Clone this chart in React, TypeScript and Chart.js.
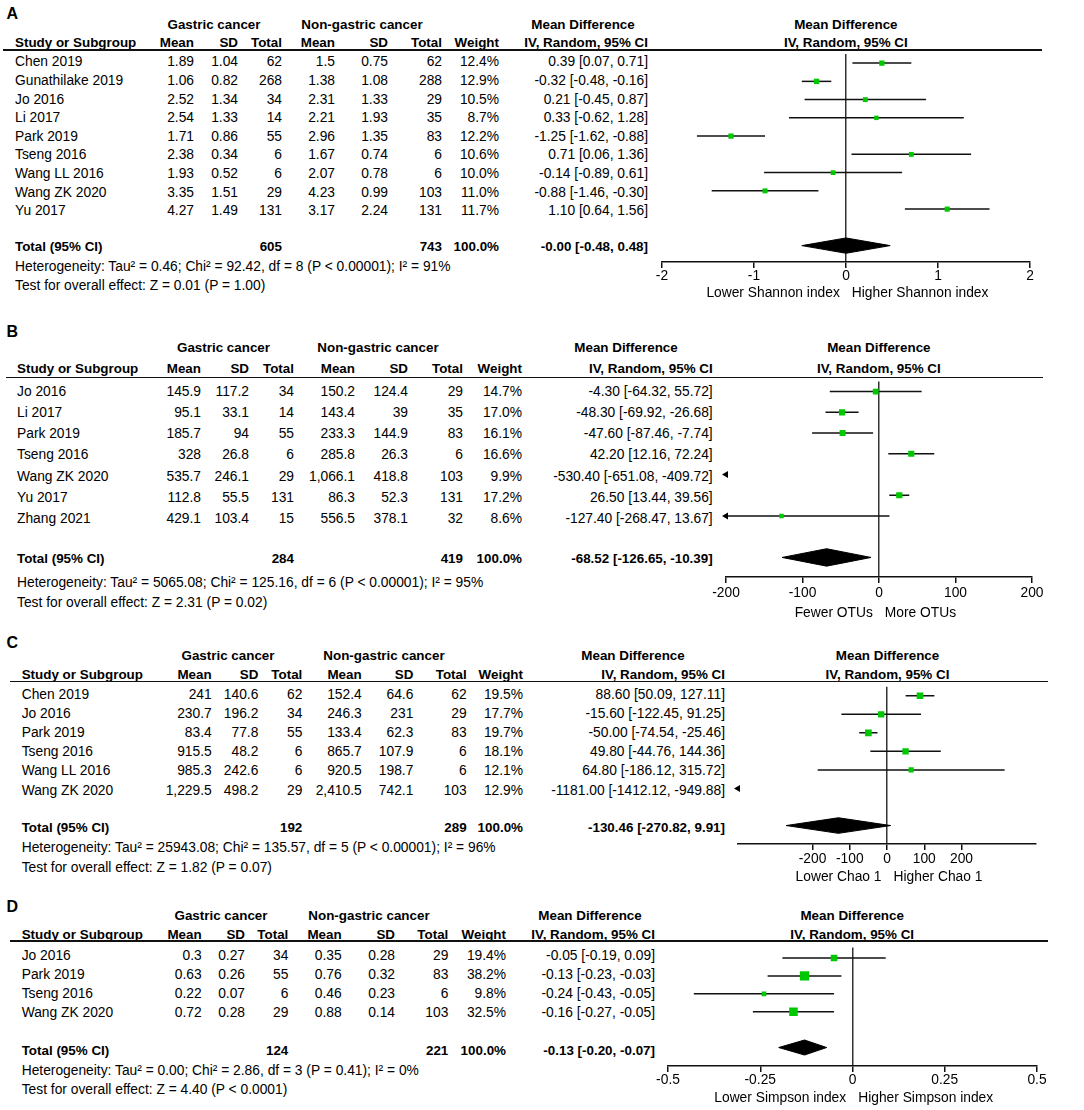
import React, { useEffect, useRef } from "react";
import { Chart, registerables } from "chart.js";

Chart.register(...registerables);

const FONT = '"Liberation Sans", Arial, Helvetica, sans-serif';
const GREEN = "#00c800";

// ---------------- Panel A: Shannon index ----------------
const A_studies = ["Chen 2019", "Gunathilake 2019", "Jo 2016", "Li 2017", "Park 2019", "Tseng 2016", "Wang LL 2016", "Wang ZK 2020", "Yu 2017"];
const A_gMean = [1.89, 1.06, 2.52, 2.54, 1.71, 2.38, 1.93, 3.35, 4.27];
const A_gSD = [1.04, 0.82, 1.34, 1.33, 0.86, 0.34, 0.52, 1.51, 1.49];
const A_gN = [62, 268, 34, 14, 55, 6, 6, 29, 131];
const A_nMean = [1.5, 1.38, 2.31, 2.21, 2.96, 1.67, 2.07, 4.23, 3.17];
const A_nSD = [0.75, 1.08, 1.33, 1.93, 1.35, 0.74, 0.78, 0.99, 2.24];
const A_nN = [62, 288, 29, 35, 83, 6, 6, 103, 131];
const A_weight = [12.4, 12.9, 10.5, 8.7, 12.2, 10.6, 10.0, 11.0, 11.7];
const A_md = [0.39, -0.32, 0.21, 0.33, -1.25, 0.71, -0.14, -0.88, 1.1];
const A_lo = [0.07, -0.48, -0.45, -0.62, -1.62, 0.06, -0.89, -1.46, 0.64];
const A_hi = [0.71, -0.16, 0.87, 1.28, -0.88, 1.36, 0.61, -0.3, 1.56];
const A_pooled = [-0.0, -0.48, 0.48];
const A_het = "Heterogeneity: Tau² = 0.46; Chi² = 92.42, df = 8 (P < 0.00001); I² = 91%";
const A_test = "Test for overall effect: Z = 0.01 (P = 1.00)";
const A_sideLabels = ["Lower Shannon index", "Higher Shannon index"];
const A_range = [-2, 2];
const A_ticks = [-2, -1, 0, 1, 2];

// ---------------- Panel B: OTUs ----------------
const B_studies = ["Jo 2016", "Li 2017", "Park 2019", "Tseng 2016", "Wang ZK 2020", "Yu 2017", "Zhang 2021"];
const B_gMean = [145.9, 95.1, 185.7, 328, 535.7, 112.8, 429.1];
const B_gSD = [117.2, 33.1, 94, 26.8, 246.1, 55.5, 103.4];
const B_gN = [34, 14, 55, 6, 29, 131, 15];
const B_nMean = [150.2, 143.4, 233.3, 285.8, 1066.1, 86.3, 556.5];
const B_nSD = [124.4, 39, 144.9, 26.3, 418.8, 52.3, 378.1];
const B_nN = [29, 35, 83, 6, 103, 131, 32];
const B_weight = [14.7, 17.0, 16.1, 16.6, 9.9, 17.2, 8.6];
const B_md = [-4.3, -48.3, -47.6, 42.2, -530.4, 26.5, -127.4];
const B_lo = [-64.32, -69.92, -87.46, 12.16, -651.08, 13.44, -268.47];
const B_hi = [55.72, -26.68, -7.74, 72.24, -409.72, 39.56, 13.67];
const B_pooled = [-68.52, -126.65, -10.39];
const B_het = "Heterogeneity: Tau² = 5065.08; Chi² = 125.16, df = 6 (P < 0.00001); I² = 95%";
const B_test = "Test for overall effect: Z = 2.31 (P = 0.02)";
const B_sideLabels = ["Fewer OTUs", "More OTUs"];
const B_range = [-200, 200];
const B_ticks = [-200, -100, 0, 100, 200];

// ---------------- Panel C: Chao 1 ----------------
const C_studies = ["Chen 2019", "Jo 2016", "Park 2019", "Tseng 2016", "Wang LL 2016", "Wang ZK 2020"];
const C_gMean = [241, 230.7, 83.4, 915.5, 985.3, 1229.5];
const C_gSD = [140.6, 196.2, 77.8, 48.2, 242.6, 498.2];
const C_gN = [62, 34, 55, 6, 6, 29];
const C_nMean = [152.4, 246.3, 133.4, 865.7, 920.5, 2410.5];
const C_nSD = [64.6, 231, 62.3, 107.9, 198.7, 742.1];
const C_nN = [62, 29, 83, 6, 6, 103];
const C_weight = [19.5, 17.7, 19.7, 18.1, 12.1, 12.9];
const C_md = [88.6, -15.6, -50.0, 49.8, 64.8, -1181.0];
const C_lo = [50.09, -122.45, -74.54, -44.76, -186.12, -1412.12];
const C_hi = [127.11, 91.25, -25.46, 144.36, 315.72, -949.88];
const C_pooled = [-130.46, -270.82, 9.91];
const C_het = "Heterogeneity: Tau² = 25943.08; Chi² = 135.57, df = 5 (P < 0.00001); I² = 96%";
const C_test = "Test for overall effect: Z = 1.82 (P = 0.07)";
const C_sideLabels = ["Lower Chao 1", "Higher Chao 1"];
const C_range = [-400, 400];
const C_ticks = [-200, -100, 0, 100, 200];

// ---------------- Panel D: Simpson index ----------------
const D_studies = ["Jo 2016", "Park 2019", "Tseng 2016", "Wang ZK 2020"];
const D_gMean = [0.3, 0.63, 0.22, 0.72];
const D_gSD = [0.27, 0.26, 0.07, 0.28];
const D_gN = [34, 55, 6, 29];
const D_nMean = [0.35, 0.76, 0.46, 0.88];
const D_nSD = [0.28, 0.32, 0.23, 0.14];
const D_nN = [29, 83, 6, 103];
const D_weight = [19.4, 38.2, 9.8, 32.5];
const D_md = [-0.05, -0.13, -0.24, -0.16];
const D_lo = [-0.19, -0.23, -0.43, -0.27];
const D_hi = [0.09, -0.03, -0.05, -0.05];
const D_pooled = [-0.13, -0.2, -0.07];
const D_het = "Heterogeneity: Tau² = 0.00; Chi² = 2.86, df = 3 (P = 0.41); I² = 0%";
const D_test = "Test for overall effect: Z = 4.40 (P < 0.0001)";
const D_sideLabels = ["Lower Simpson index", "Higher Simpson index"];
const D_range = [-0.5, 0.5];
const D_ticks = [-0.5, -0.25, 0, 0.25, 0.5];

// total weight shown on every "Total (95% CI)" row
const TOTAL_WEIGHT = 100.0;

// ---------------- layout (pixel positions of each panel) ----------------
type Layout = {
  letterY: number; groupY: number; headY: number; lineY: number; lineX0: number; lineX1: number;
  nameX: number; cols: number[]; gC: number; nC: number; mdC: number;
  rowY0: number; rowH: number; mOff: number; totalY: number; hetY: number; testY: number;
  pxMin: number; pxMax: number; axisY: number; tickY: number; botY: number;
};

const L_A: Layout = { letterY: 14.2, groupY: 25, headY: 43.3, lineY: 50, lineX0: 3, lineX1: 1042, nameX: 15, cols: [194, 238, 282, 335, 388, 442, 499, 648], gC: 214, nC: 362, mdC: 583, rowY0: 62.3, rowH: 18.6, mOff: -3, totalY: 247.3, hetY: 266.7, testY: 285.7, pxMin: 661.7, pxMax: 1030, axisY: 261.7, tickY: 276, botY: 293.3 };
const L_B: Layout = { letterY: 331.7, groupY: 348.3, headY: 369.3, lineY: 377.3, lineX0: 6, lineX1: 1043, nameX: 17, cols: [201, 249, 294, 355, 408, 463, 522, 712.7], gC: 223.5, nC: 378, mdC: 626, rowY0: 391.7, rowH: 21.2, mOff: -4, totalY: 559.3, hetY: 582.7, testY: 603.3, pxMin: 726, pxMax: 1031.7, axisY: 577.3, tickY: 593.3, botY: 612.7 };
const L_C: Layout = { letterY: 643.3, groupY: 656, headY: 675, lineY: 681.7, lineX0: 10, lineX1: 1048, nameX: 21.7, cols: [211.7, 258.3, 302.3, 361.7, 413.3, 466.7, 523, 725], gC: 228, nC: 384, mdC: 633, rowY0: 695, rowH: 19.1, mOff: -4, totalY: 827.7, hetY: 848.3, testY: 867.7, pxMin: 738.3, pxMax: 1036.7, axisY: 843.3, tickY: 858.3, botY: 876.7 };
const L_D: Layout = { letterY: 906.7, groupY: 916, headY: 935, lineY: 941, lineX0: 10, lineX1: 1048, nameX: 21.7, cols: [201.7, 245, 288.3, 341.7, 395, 448.3, 506, 655], gC: 221, nC: 369, mdC: 590, rowY0: 956, rowH: 18.9, mOff: -4, totalY: 1050.7, hetY: 1070.7, testY: 1090, pxMin: 667.7, pxMax: 1036.7, axisY: 1066, tickY: 1080, botY: 1098.3 };

const FS = 13.8; // regular text size
const FSB = 13.4; // bold text size
const SQUARE_K = 1.5; // square side = K * sqrt(weight)

type PanelData = {
  letter: string; studies: string[]; gMean: number[]; gSD: number[]; gN: number[];
  nMean: number[]; nSD: number[]; nN: number[]; weight: number[];
  md: number[]; lo: number[]; hi: number[]; pooled: number[];
  het: string; test: string; side: string[]; range: number[]; ticks: number[];
};

const PANELS: { d: PanelData; L: Layout }[] = [
  { d: { letter: "A", studies: A_studies, gMean: A_gMean, gSD: A_gSD, gN: A_gN, nMean: A_nMean, nSD: A_nSD, nN: A_nN, weight: A_weight, md: A_md, lo: A_lo, hi: A_hi, pooled: A_pooled, het: A_het, test: A_test, side: A_sideLabels, range: A_range, ticks: A_ticks }, L: L_A },
  { d: { letter: "B", studies: B_studies, gMean: B_gMean, gSD: B_gSD, gN: B_gN, nMean: B_nMean, nSD: B_nSD, nN: B_nN, weight: B_weight, md: B_md, lo: B_lo, hi: B_hi, pooled: B_pooled, het: B_het, test: B_test, side: B_sideLabels, range: B_range, ticks: B_ticks }, L: L_B },
  { d: { letter: "C", studies: C_studies, gMean: C_gMean, gSD: C_gSD, gN: C_gN, nMean: C_nMean, nSD: C_nSD, nN: C_nN, weight: C_weight, md: C_md, lo: C_lo, hi: C_hi, pooled: C_pooled, het: C_het, test: C_test, side: C_sideLabels, range: C_range, ticks: C_ticks }, L: L_C },
  { d: { letter: "D", studies: D_studies, gMean: D_gMean, gSD: D_gSD, gN: D_gN, nMean: D_nMean, nSD: D_nSD, nN: D_nN, weight: D_weight, md: D_md, lo: D_lo, hi: D_hi, pooled: D_pooled, het: D_het, test: D_test, side: D_sideLabels, range: D_range, ticks: D_ticks }, L: L_D },
];

// ---------------- formatting ----------------
const fmtNum = (v: number) => v.toLocaleString("en-US", { maximumFractionDigits: 3 });
const fmt2 = (v: number) => (v < 0 || Object.is(v, -0) ? "-" : "") + Math.abs(v).toFixed(2);
const fmtCI = (m: number, l: number, h: number) => `${fmt2(m)} [${fmt2(l)}, ${fmt2(h)}]`;
const sum = (a: number[]) => a.reduce((s, v) => s + v, 0);

function Txt(props: { x: number; y: number; align?: "left" | "right" | "center"; bold?: boolean; size?: number; children: React.ReactNode }) {
  const { x, y, align = "left", bold = false, size, children } = props;
  const fs = size ?? (bold ? FSB : FS);
  const st: React.CSSProperties = {
    position: "absolute",
    top: y - 8,
    height: 16,
    lineHeight: "16px",
    fontSize: fs,
    fontWeight: bold ? "bold" : "normal",
    whiteSpace: "nowrap",
    color: "#000",
  };
  if (align === "left") st.left = x;
  else if (align === "right") { st.left = x - 500; st.width = 500; st.textAlign = "right"; }
  else { st.left = x - 300; st.width = 600; st.textAlign = "center"; }
  return <div style={st}>{children}</div>;
}

const PAD = 28;
const AXIS_H = 34;

function Forest({ d, L }: { d: PanelData; L: Layout }) {
  const ref = useRef<HTMLCanvasElement>(null);
  const width = Math.round(L.pxMax - L.pxMin + 2 * PAD);
  const plotH = L.axisY - L.lineY;
  const height = Math.round(plotH + AXIS_H);
  const left = L.pxMin - PAD;

  useEffect(() => {
    const canvas = ref.current;
    if (!canvas) return;
    const [xmin, xmax] = d.range;
    const yMin = -(L.rowY0 + L.mOff - L.lineY) / L.rowH;
    const yMax = yMin + (height - AXIS_H) / L.rowH;
    const n = d.studies.length;
    const totalRow = n + 1;
    const halfH = 0.42;

    const squares = d.studies
      .map((_, i) => ({ x: d.md[i], y: i, w: d.weight[i] }))
      .filter((p) => p.x >= xmin && p.x <= xmax);
    const arrows = d.studies
      .map((_, i) => ({ x: xmin, y: i, lo: d.lo[i] }))
      .filter((p) => p.lo < xmin);

    const datasets: any[] = [];
    datasets.push({
      label: "studies",
      data: squares,
      showLine: false,
      pointStyle: "rect",
      pointRadius: (c: any) => (SQUARE_K * Math.sqrt(c.raw ? c.raw.w : 10)) / Math.SQRT2,
      pointBackgroundColor: GREEN,
      pointBorderColor: GREEN,
      pointBorderWidth: 0,
    });
    datasets.push({
      label: "arrows",
      data: arrows,
      showLine: false,
      pointStyle: "triangle",
      pointRotation: -90,
      pointRadius: 4,
      pointBackgroundColor: "#000",
      pointBorderColor: "#000",
      pointBorderWidth: 0,
      clip: false,
    });
    d.studies.forEach((s, i) => {
      if (d.hi[i] > xmin && d.lo[i] < xmax) {
        datasets.push({
          label: s,
          data: [{ x: d.lo[i], y: i }, { x: d.hi[i], y: i }],
          showLine: true,
          borderColor: "#111",
          borderWidth: 1.5,
          pointRadius: 0,
        });
      }
    });
    const [pm, pl, ph] = d.pooled;
    datasets.push({
      label: "pooled",
      data: [
        { x: pl, y: totalRow },
        { x: pm, y: totalRow - halfH },
        { x: ph, y: totalRow },
        { x: pm, y: totalRow + halfH },
        { x: pl, y: totalRow },
      ],
      showLine: true,
      fill: "shape",
      backgroundColor: "#000",
      borderColor: "#000",
      borderWidth: 1,
      pointRadius: 0,
      tension: 0,
    });

    const tickPad = Math.max(0, L.tickY - L.axisY - 6 - 0.6 * FS);

    const chart = new Chart(canvas, {
      type: "scatter",
      data: { datasets },
      options: {
        animation: false,
        responsive: false,
        events: [],
        layout: { padding: { left: PAD, right: PAD, top: 0, bottom: 0 } },
        plugins: { legend: { display: false }, tooltip: { enabled: false } },
        scales: {
          x: {
            type: "linear",
            position: "bottom",
            min: xmin,
            max: xmax,
            bounds: "data",
            afterBuildTicks: (sc: any) => {
              sc.ticks = d.ticks.map((v) => ({ value: v }));
            },
            afterFit: (sc: any) => {
              sc.height = AXIS_H;
            },
            ticks: {
              autoSkip: false,
              maxRotation: 0,
              minRotation: 0,
              padding: tickPad,
              color: "#000",
              font: { family: FONT, size: FS },
              callback: (v: any) => String(v),
            },
            grid: {
              color: (c: any) => (c.tick && c.tick.value === 0 ? "#333" : "rgba(0,0,0,0)"),
              lineWidth: 1.5,
              drawTicks: true,
              tickLength: 6,
              tickColor: "#111",
              tickWidth: 1.5,
            },
            border: { display: true, color: "#111", width: 1.5 },
          },
          y: {
            type: "linear",
            display: false,
            reverse: true,
            min: yMin,
            max: yMax,
            bounds: "data",
          },
        },
      } as any,
    });
    return () => chart.destroy();
  }, [d, L, height]);

  return (
    <canvas
      ref={ref}
      width={width}
      height={height}
      style={{ position: "absolute", left, top: L.lineY, width, height }}
    />
  );
}

function Panel({ d, L }: { d: PanelData; L: Layout }) {
  const c = L.cols;
  const axisCenter = L.pxMin + ((0 - d.range[0]) / (d.range[1] - d.range[0])) * (L.pxMax - L.pxMin);
  const mid = (L.pxMin + L.pxMax) / 2;
  const textY = (i: number) => L.rowY0 + i * L.rowH;
  return (
    <>
      <Txt x={6.5} y={L.letterY} bold size={16}>{d.letter}</Txt>
      <Txt x={L.gC} y={L.groupY} align="center" bold>Gastric cancer</Txt>
      <Txt x={L.nC} y={L.groupY} align="center" bold>Non-gastric cancer</Txt>
      <Txt x={L.mdC} y={L.groupY} align="center" bold>Mean Difference</Txt>
      <Txt x={mid} y={L.groupY} align="center" bold>Mean Difference</Txt>

      <Txt x={L.nameX} y={L.headY} bold>Study or Subgroup</Txt>
      <Txt x={c[0]} y={L.headY} align="right" bold>Mean</Txt>
      <Txt x={c[1]} y={L.headY} align="right" bold>SD</Txt>
      <Txt x={c[2]} y={L.headY} align="right" bold>Total</Txt>
      <Txt x={c[3]} y={L.headY} align="right" bold>Mean</Txt>
      <Txt x={c[4]} y={L.headY} align="right" bold>SD</Txt>
      <Txt x={c[5]} y={L.headY} align="right" bold>Total</Txt>
      <Txt x={c[6]} y={L.headY} align="right" bold>Weight</Txt>
      <Txt x={c[7]} y={L.headY} align="right" bold>IV, Random, 95% CI</Txt>
      <Txt x={mid} y={L.headY} align="center" bold>IV, Random, 95% CI</Txt>

      <div style={{ position: "absolute", left: L.lineX0, top: L.lineY - 0.75, width: L.lineX1 - L.lineX0, height: 1.5, background: "#111" }} />

      {d.studies.map((s, i) => (
        <React.Fragment key={s}>
          <Txt x={L.nameX} y={textY(i)}>{s}</Txt>
          <Txt x={c[0]} y={textY(i)} align="right">{fmtNum(d.gMean[i])}</Txt>
          <Txt x={c[1]} y={textY(i)} align="right">{fmtNum(d.gSD[i])}</Txt>
          <Txt x={c[2]} y={textY(i)} align="right">{String(d.gN[i])}</Txt>
          <Txt x={c[3]} y={textY(i)} align="right">{fmtNum(d.nMean[i])}</Txt>
          <Txt x={c[4]} y={textY(i)} align="right">{fmtNum(d.nSD[i])}</Txt>
          <Txt x={c[5]} y={textY(i)} align="right">{String(d.nN[i])}</Txt>
          <Txt x={c[6]} y={textY(i)} align="right">{d.weight[i].toFixed(1) + "%"}</Txt>
          <Txt x={c[7]} y={textY(i)} align="right">{fmtCI(d.md[i], d.lo[i], d.hi[i])}</Txt>
        </React.Fragment>
      ))}

      <Txt x={L.nameX} y={L.totalY} bold>Total (95% CI)</Txt>
      <Txt x={c[2]} y={L.totalY} align="right" bold>{String(sum(d.gN))}</Txt>
      <Txt x={c[5]} y={L.totalY} align="right" bold>{String(sum(d.nN))}</Txt>
      <Txt x={c[6]} y={L.totalY} align="right" bold>{TOTAL_WEIGHT.toFixed(1) + "%"}</Txt>
      <Txt x={c[7]} y={L.totalY} align="right" bold>{fmtCI(d.pooled[0], d.pooled[1], d.pooled[2])}</Txt>
      <Txt x={L.nameX} y={L.hetY}>{d.het}</Txt>
      <Txt x={L.nameX} y={L.testY}>{d.test}</Txt>

      <Forest d={d} L={L} />

      <Txt x={axisCenter - 6} y={L.botY} align="right">{d.side[0]}</Txt>
      <Txt x={axisCenter + 6} y={L.botY}>{d.side[1]}</Txt>
    </>
  );
}

export default function App() {
  return (
    <div
      style={{
        position: "absolute",
        left: 0,
        top: 0,
        width: 1084,
        height: 1110,
        background: "#fff",
        fontFamily: FONT,
        overflow: "hidden",
      }}
    >
      {PANELS.map((p) => (
        <Panel key={p.d.letter} d={p.d} L={p.L} />
      ))}
    </div>
  );
}
